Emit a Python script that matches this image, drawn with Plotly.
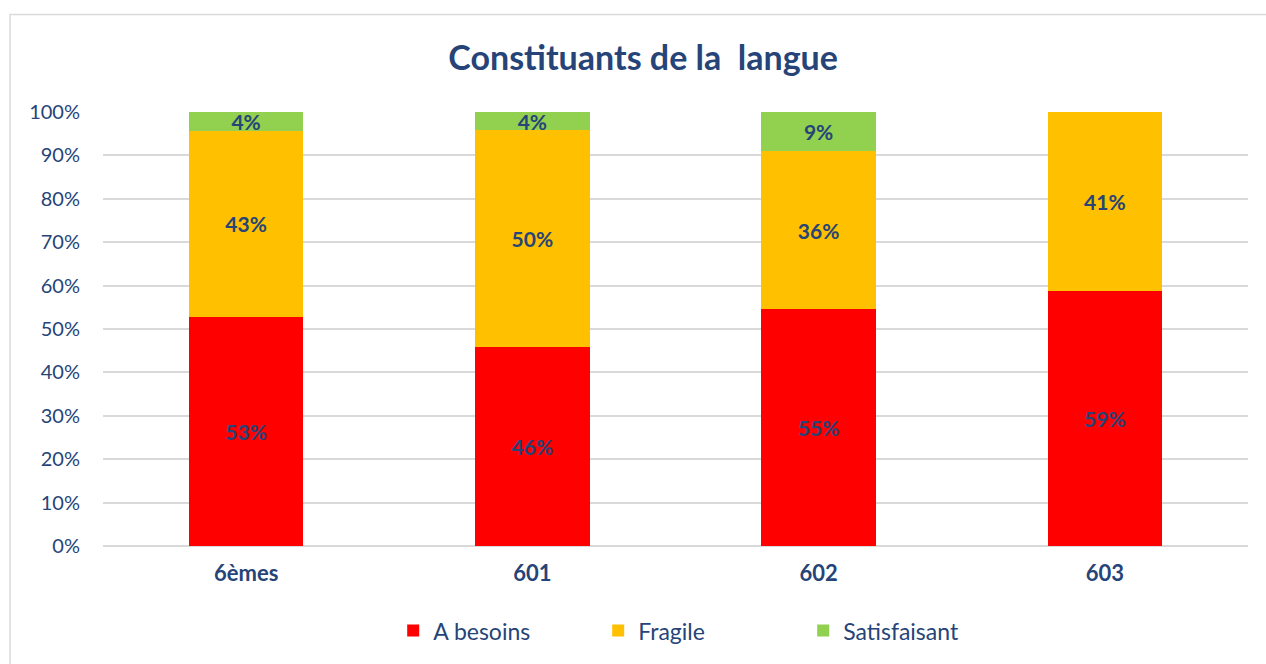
import plotly.graph_objects as go

categories = ["6èmes", "601", "602", "603"]
a_besoins = [52.8, 45.83, 54.55, 58.82]
fragile = [42.8, 50.0, 36.36, 41.18]
satisfaisant = [4.4, 4.17, 9.09, 0.0]
y_ticks = [0, 10, 20, 30, 40, 50, 60, 70, 80, 90, 100]

text_color = "#264478"
font_family = "Lato, 'Open Sans', Arial, sans-serif"

def labels(vals):
    return [f"{round(v):.0f}%" if v > 0 else "" for v in vals]

fig = go.Figure()
for name, vals, color in [
    ("A besoins", a_besoins, "#FF0000"),
    ("Fragile", fragile, "#FFC000"),
    ("Satisfaisant", satisfaisant, "#92D050"),
]:
    fig.add_trace(go.Bar(
        x=categories, y=vals, name=name,
        marker=dict(color=color, line=dict(width=0)),
        text=labels(vals), textposition="inside", insidetextanchor="middle",
        textfont=dict(color=text_color, size=21, family=font_family, weight="bold"),
        constraintext="none", cliponaxis=False,
    ))

fig.update_layout(
    barmode="stack",
    bargap=0.6,
    width=1266, height=664,
    paper_bgcolor="white", plot_bgcolor="white",
    margin=dict(l=103, r=18, t=112, b=116),
    uniformtext=dict(minsize=21, mode="show"),
    title=dict(
        text="<b>Constituants de la  langue</b>",
        x=0.508, xanchor="center", y=0.912, yanchor="middle",
        font=dict(size=34, color=text_color, family=font_family),
    ),
    font=dict(family=font_family, color=text_color),
    legend=dict(
        orientation="h", x=0.522, xanchor="center", y=-0.195, yanchor="middle",
        font=dict(size=23, color=text_color, family=font_family),
        entrywidth=160, itemwidth=30, traceorder="normal",
    ),
    showlegend=True,
    shapes=[dict(
        type="rect", xref="paper", yref="paper",
        x0=-0.0812, x1=1.03, y0=-0.30, y1=1.2248,
        line=dict(color="#D9D9D9", width=1.5), fillcolor="rgba(0,0,0,0)", layer="below",
    )],
)

fig.update_yaxes(
    range=[0, 100], tickvals=y_ticks, ticktext=[f"{t}%" for t in y_ticks],
    showgrid=True, gridcolor="#D9D9D9", gridwidth=1.5,
    zeroline=True, zerolinecolor="#D9D9D9", zerolinewidth=1.5,
    tickfont=dict(size=20, color=text_color, family=font_family),
    ticks="", ticklabelstandoff=22, fixedrange=True,
)
fig.update_xaxes(
    showline=False, ticks="",
    tickfont=dict(size=22, color=text_color, family=font_family, weight="bold"),
    ticklabelstandoff=12,
)

fig.write_html("out.html", config={"displayModeBar": False},
               post_script="document.body.style.margin='0';")
